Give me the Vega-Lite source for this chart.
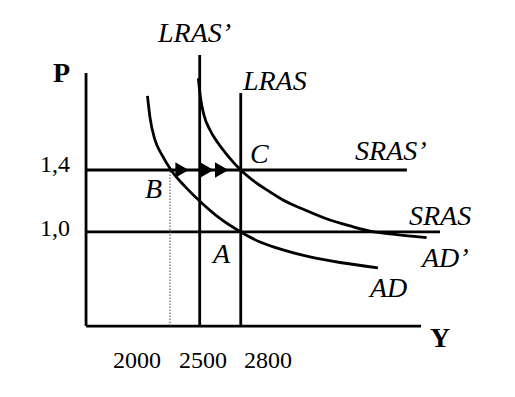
{
  "$schema": "https://vega.github.io/schema/vega-lite/v6.json",
  "width": 515,
  "height": 397,
  "autosize": {"type": "fit", "contains": "padding"},
  "padding": 0,
  "background": "white",
  "config": {"view": {"stroke": null}},
  "datasets": {
    "segments": [
      {"name": "P axis", "x": 1669, "x2": 1669, "y": 0.393, "y2": 2.026},
      {"name": "Y axis", "x": 1669, "x2": 4118, "y": 0.393, "y2": 0.393},
      {"name": "LRAS'", "x": 2500, "x2": 2500, "y": 0.393, "y2": 2.142},
      {"name": "LRAS", "x": 2800, "x2": 2800, "y": 0.393, "y2": 1.897},
      {"name": "SRAS'", "x": 1669, "x2": 4015, "y": 1.4, "y2": 1.4},
      {"name": "SRAS", "x": 1669, "x2": 4257, "y": 1.0, "y2": 1.0}
    ],
    "dotted": [
      {"name": "B drop", "x": 2283, "x2": 2283, "y": 0.393, "y2": 1.4}
    ],
    "curves": [
      {"curve": "AD", "Y": 2118, "P": 1.878},
      {"curve": "AD", "Y": 2137, "P": 1.736},
      {"curve": "AD", "Y": 2173, "P": 1.594},
      {"curve": "AD", "Y": 2224, "P": 1.497},
      {"curve": "AD", "Y": 2290, "P": 1.4},
      {"curve": "AD", "Y": 2392, "P": 1.294},
      {"curve": "AD", "Y": 2515, "P": 1.187},
      {"curve": "AD", "Y": 2648, "P": 1.087},
      {"curve": "AD", "Y": 2800, "P": 1.0},
      {"curve": "AD", "Y": 2941, "P": 0.935},
      {"curve": "AD", "Y": 3109, "P": 0.884},
      {"curve": "AD", "Y": 3306, "P": 0.839},
      {"curve": "AD", "Y": 3526, "P": 0.803},
      {"curve": "AD", "Y": 3803, "P": 0.769},
      {"curve": "AD'", "Y": 2490, "P": 1.992},
      {"curve": "AD'", "Y": 2506, "P": 1.865},
      {"curve": "AD'", "Y": 2531, "P": 1.755},
      {"curve": "AD'", "Y": 2575, "P": 1.658},
      {"curve": "AD'", "Y": 2634, "P": 1.574},
      {"curve": "AD'", "Y": 2707, "P": 1.49},
      {"curve": "AD'", "Y": 2800, "P": 1.4},
      {"curve": "AD'", "Y": 2904, "P": 1.323},
      {"curve": "AD'", "Y": 3014, "P": 1.258},
      {"curve": "AD'", "Y": 3109, "P": 1.206},
      {"curve": "AD'", "Y": 3270, "P": 1.142},
      {"curve": "AD'", "Y": 3452, "P": 1.077},
      {"curve": "AD'", "Y": 3599, "P": 1.039},
      {"curve": "AD'", "Y": 3745, "P": 1.006},
      {"curve": "AD'", "Y": 3928, "P": 0.984},
      {"curve": "AD'", "Y": 4159, "P": 0.964}
    ],
    "arrows": [
      {"Y": 2371, "P": 1.4},
      {"Y": 2552, "P": 1.4},
      {"Y": 2661, "P": 1.4}
    ],
    "italicLabels": [
      {"text": "LRAS’", "Y": 2195, "P": 2.226},
      {"text": "LRAS", "Y": 2816, "P": 1.916},
      {"text": "SRAS’", "Y": 3635, "P": 1.464},
      {"text": "SRAS", "Y": 4030, "P": 1.045},
      {"text": "AD’", "Y": 4125, "P": 0.774},
      {"text": "AD", "Y": 3745, "P": 0.58},
      {"text": "C", "Y": 2868, "P": 1.445},
      {"text": "B", "Y": 2100, "P": 1.219},
      {"text": "A", "Y": 2597, "P": 0.8}
    ],
    "boldLabels": [
      {"text": "P", "Y": 1427, "P": 1.968},
      {"text": "Y", "Y": 4183, "P": 0.258}
    ],
    "numberLabels": [
      {"text": "1,4", "Y": 1332, "P": 1.39},
      {"text": "1,0", "Y": 1332, "P": 0.971},
      {"text": "2000", "Y": 1866, "P": 0.122},
      {"text": "2500", "Y": 2349, "P": 0.122},
      {"text": "2800", "Y": 2824, "P": 0.122}
    ]
  },
  "layer": [
    {
      "data": {"name": "segments"},
      "mark": {"type": "rule", "color": "black", "strokeWidth": 2.8, "strokeCap": "butt"},
      "encoding": {
        "x": {"field": "x", "type": "quantitative", "scale": {"domain": [1040, 4805], "nice": false, "zero": false}, "axis": null},
        "x2": {"field": "x2"},
        "y": {"field": "y", "type": "quantitative", "scale": {"domain": [-0.065, 2.497], "nice": false, "zero": false}, "axis": null},
        "y2": {"field": "y2"}
      }
    },
    {
      "data": {"name": "dotted"},
      "mark": {"type": "rule", "color": "#444", "strokeWidth": 1, "strokeDash": [1.5, 1.5]},
      "encoding": {
        "x": {"field": "x", "type": "quantitative", "scale": {"domain": [1040, 4805], "nice": false, "zero": false}, "axis": null},
        "x2": {"field": "x2"},
        "y": {"field": "y", "type": "quantitative", "scale": {"domain": [-0.065, 2.497], "nice": false, "zero": false}, "axis": null},
        "y2": {"field": "y2"}
      }
    },
    {
      "data": {"name": "curves"},
      "mark": {"type": "line", "color": "black", "strokeWidth": 2.8, "interpolate": "monotone"},
      "encoding": {
        "x": {"field": "Y", "type": "quantitative", "scale": {"domain": [1040, 4805], "nice": false, "zero": false}, "axis": null},
        "y": {"field": "P", "type": "quantitative", "scale": {"domain": [-0.065, 2.497], "nice": false, "zero": false}, "axis": null},
        "detail": {"field": "curve", "type": "nominal"}
      }
    },
    {
      "data": {"name": "arrows"},
      "mark": {"type": "point", "shape": "triangle-right", "filled": true, "color": "black", "opacity": 1, "size": 240},
      "encoding": {
        "x": {"field": "Y", "type": "quantitative", "scale": {"domain": [1040, 4805], "nice": false, "zero": false}, "axis": null},
        "y": {"field": "P", "type": "quantitative", "scale": {"domain": [-0.065, 2.497], "nice": false, "zero": false}, "axis": null}
      }
    },
    {
      "data": {"name": "italicLabels"},
      "mark": {"type": "text", "align": "left", "baseline": "alphabetic", "font": "Liberation Serif", "fontStyle": "italic", "fontSize": 28, "color": "black"},
      "encoding": {
        "x": {"field": "Y", "type": "quantitative", "scale": {"domain": [1040, 4805], "nice": false, "zero": false}, "axis": null},
        "y": {"field": "P", "type": "quantitative", "scale": {"domain": [-0.065, 2.497], "nice": false, "zero": false}, "axis": null},
        "text": {"field": "text"}
      }
    },
    {
      "data": {"name": "boldLabels"},
      "mark": {"type": "text", "align": "left", "baseline": "alphabetic", "font": "Liberation Serif", "fontWeight": "bold", "fontSize": 28, "color": "black"},
      "encoding": {
        "x": {"field": "Y", "type": "quantitative", "scale": {"domain": [1040, 4805], "nice": false, "zero": false}, "axis": null},
        "y": {"field": "P", "type": "quantitative", "scale": {"domain": [-0.065, 2.497], "nice": false, "zero": false}, "axis": null},
        "text": {"field": "text"}
      }
    },
    {
      "data": {"name": "numberLabels"},
      "mark": {"type": "text", "align": "left", "baseline": "alphabetic", "font": "Liberation Serif", "fontSize": 24, "color": "black"},
      "encoding": {
        "x": {"field": "Y", "type": "quantitative", "scale": {"domain": [1040, 4805], "nice": false, "zero": false}, "axis": null},
        "y": {"field": "P", "type": "quantitative", "scale": {"domain": [-0.065, 2.497], "nice": false, "zero": false}, "axis": null},
        "text": {"field": "text"}
      }
    }
  ]
}
